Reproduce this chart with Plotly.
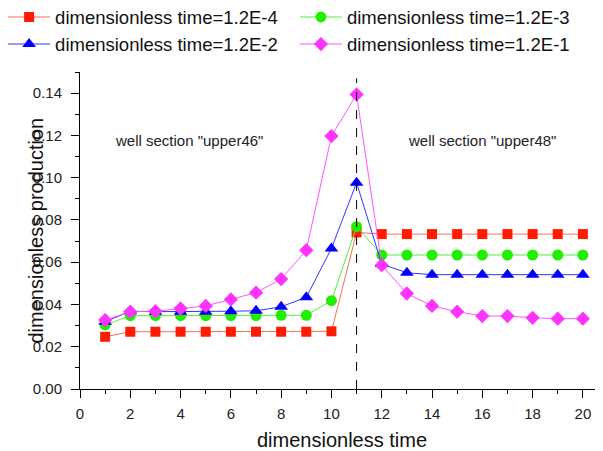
import plotly.graph_objects as go

x_vals = list(range(1, 21))
series_names = ["dimensionless time=1.2E-4", "dimensionless time=1.2E-3",
                "dimensionless time=1.2E-2", "dimensionless time=1.2E-1"]
y_1e4 = [0.0247, 0.0271, 0.0271, 0.0271, 0.0271, 0.0271, 0.0271, 0.0271, 0.0271, 0.0273,
         0.0741, 0.0733, 0.0733, 0.0733, 0.0733, 0.0733, 0.0733, 0.0733, 0.0733, 0.0733]
y_1e3 = [0.0303, 0.0347, 0.0347, 0.0347, 0.0347, 0.0347, 0.0347, 0.0349, 0.0349, 0.0418,
         0.0768, 0.0634, 0.0634, 0.0634, 0.0634, 0.0634, 0.0634, 0.0634, 0.0634, 0.0634]
y_1e2 = [0.0318, 0.0368, 0.0366, 0.0366, 0.0366, 0.0368, 0.0370, 0.0389, 0.0434, 0.0665,
         0.0976, 0.0591, 0.0550, 0.0541, 0.0541, 0.0541, 0.0541, 0.0541, 0.0541, 0.0541]
y_1e1 = [0.0326, 0.0366, 0.0368, 0.0381, 0.0393, 0.0424, 0.0456, 0.0520, 0.0657, 0.1197,
         0.1394, 0.0586, 0.0452, 0.0393, 0.0366, 0.0345, 0.0345, 0.0337, 0.0333, 0.0333]

marker_colors = ["#ff1a00", "#22ee00", "#0000ff", "#ff33ff"]
line_colors = ["#ff6a5a", "#55ee44", "#3333ff", "#ff55ff"]
symbols = ["square", "circle", "triangle-up", "diamond"]
sizes = [10, 11, 12, 11]
legend_ids = ["legend", "legend2", "legend", "legend2"]
ys = [y_1e4, y_1e3, y_1e2, y_1e1]

FONT = "Liberation Sans, Arial"

fig = go.Figure()
for name, y, mc, lc, sym, sz, lg in zip(series_names, ys, marker_colors, line_colors,
                                        symbols, sizes, legend_ids):
    fig.add_trace(go.Scatter(
        x=x_vals, y=y, mode="lines+markers", name=name, legend=lg,
        line=dict(color=lc, width=1),
        marker=dict(symbol=sym, size=sz, color=mc, line=dict(width=0)),
    ))

fig.add_shape(type="line", x0=11, x1=11, y0=0, y1=0.147, xref="x", yref="y",
              line=dict(color="black", width=1, dash="dash"))

fig.add_annotation(x=4.35, y=0.1178, text='well section "upper46"', showarrow=False,
                   font=dict(family=FONT, size=15, color="#222"))
fig.add_annotation(x=16.0, y=0.1178, text='well section "upper48"', showarrow=False,
                   font=dict(family=FONT, size=15, color="#222"))

fig.add_annotation(x=0.5, y=-0.161, xref="paper", yref="paper", text="dimensionless time",
                   xanchor="center", yanchor="middle",
                   showarrow=False, font=dict(family=FONT, size=20, color="#111"))
fig.add_annotation(x=-0.086, y=0.5, xref="paper", yref="paper", text="dimensionless production",
                   xanchor="center", yanchor="middle",
                   textangle=-90, showarrow=False,
                   font=dict(family=FONT, size=20, color="#111"))

legend_common = dict(orientation="v", xanchor="left", yanchor="top", itemwidth=42,
                     font=dict(family=FONT, size=18.5, color="#111"),
                     bgcolor="rgba(0,0,0,0)", tracegroupgap=0)

fig.update_layout(
    width=603, height=451,
    margin=dict(l=72, r=8, t=64, b=70, autoexpand=False),
    paper_bgcolor="white", plot_bgcolor="white",
    font=dict(family=FONT, color="#222"),
    showlegend=True,
    legend=dict(x=-0.147, y=1.232, **legend_common),
    legend2=dict(x=0.411, y=1.232, **legend_common),
    xaxis=dict(range=[0, 20.8], showgrid=False, zeroline=False, showline=True,
               linecolor="black", linewidth=1, ticks="outside", ticklen=8,
               tickcolor="black", tick0=0, dtick=2, ticklabelstandoff=3,
               minor=dict(ticks="outside", ticklen=4, dtick=1, tickcolor="black"),
               tickfont=dict(family=FONT, size=15, color="#222")),
    yaxis=dict(range=[0, 0.15], showgrid=False, zeroline=False, showline=True,
               linecolor="black", linewidth=1, ticks="outside", ticklen=8,
               tickcolor="black", tick0=0, dtick=0.02, tickformat=".2f",
               ticklabelstandoff=6,
               minor=dict(ticks="outside", ticklen=4, dtick=0.01, tickcolor="black"),
               tickfont=dict(family=FONT, size=15, color="#222")),
)

fig.write_html("out.html")
